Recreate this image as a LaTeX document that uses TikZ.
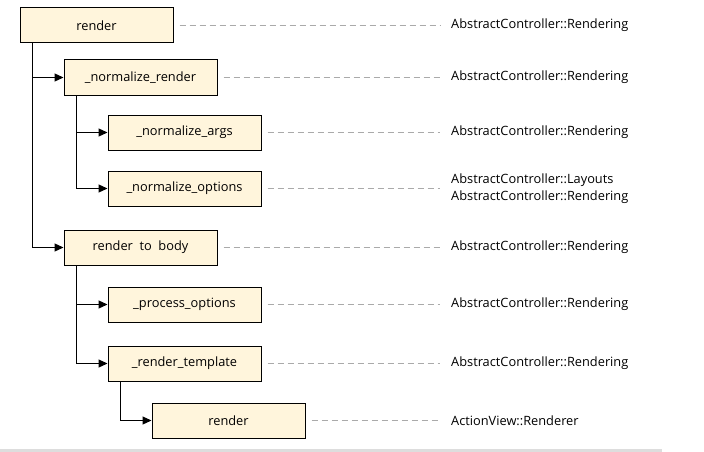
\documentclass[tikz,border=0pt]{standalone}
\usepackage{fontspec}
\setmainfont{Open Sans}
\usetikzlibrary{arrows.meta, positioning}

\definecolor{boxfill}{RGB}{255,245,220}
\definecolor{dashgray}{RGB}{170,170,170}
\definecolor{bargray}{RGB}{221,221,221}

\tikzset{
  call/.style = {draw=black, line width=1pt, fill=boxfill,
                 minimum width=153pt, minimum height=35pt,
                 inner sep=0pt, font=\fontsize{12.8}{15}\selectfont},
  owner/.style = {anchor=west, align=left, inner sep=0pt,
                  font=\fontsize{12.8}{17}\selectfont},
  guide/.style = {draw=dashgray, line width=1pt, dash pattern=on 6pt off 4pt,
                  shorten <=6pt, shorten >=11pt},
  flow/.style = {-{Triangle[length=9pt,width=8pt]}, line width=1.2pt}
}

\begin{document}
\begin{tikzpicture} [x=1pt, y=-1pt, node distance = 44pt, on grid]
        \useasboundingbox (0,0) rectangle (704,452);
        \fill [bargray] (0,449) rectangle (662,452);

        \node (render) [call] at (96.5,25.5) {render};
        \node (nrender) [call, below right = 52pt and 44pt of render] {\_normalize\_render};
        \node (nargs) [call, below right = 55pt and 44pt of nrender] {\_normalize\_args};
        \node (nopts) [call, below = 56pt of nargs] {\_normalize\_options};
        \node (rtb) [call, below left = 59pt and 44pt of nopts] {render\ \ to\ \ body};
        \node (popts) [call, below right = 57pt and 44pt of rtb] {\_process\_options};
        \node (rtmpl) [call, below = 59pt of popts] {\_render\_template};
        \node (view) [call, below right = 57pt and 44pt of rtmpl] {render};

        % owners on the right
        \node (o1) [owner] at (451,25.5) {AbstractController::Rendering};
        \node (o2) [owner] at (451,77.5) {AbstractController::Rendering};
        \node (o3) [owner] at (451,132.5) {AbstractController::Rendering};
        \node (o4) [owner] at (451,188.5) {AbstractController::Layouts\\AbstractController::Rendering};
        \node (o5) [owner] at (451,247.5) {AbstractController::Rendering};
        \node (o6) [owner] at (451,304.5) {AbstractController::Rendering};
        \node (o7) [owner] at (451,363.5) {AbstractController::Rendering};
        \node (o8) [owner] at (451,420.5) {ActionView::Renderer};

        \path [guide]
          (render.east) edge (o1.west)
          (nrender.east) edge (o2.west)
          (nargs.east) edge (o3.west)
          (nopts.east) edge (o4.west)
          (rtb.east) edge (o5.west)
          (popts.east) edge (o6.west)
          (rtmpl.east) edge (o7.west)
          (view.east) edge (o8.west);

        \coordinate (t1) at ([xshift=13pt]render.south west);
        \coordinate (t2) at ([xshift=13pt]nrender.south west);
        \coordinate (t3) at ([xshift=13pt]rtb.south west);
        \coordinate (t4) at ([xshift=13pt]rtmpl.south west);

        \draw [flow] (t1) |- (nrender.west);
        \draw [flow] (t1) |- (rtb.west);
        \draw [flow] (t2) |- (nargs.west);
        \draw [flow] (t2) |- (nopts.west);
        \draw [flow] (t3) |- (popts.west);
        \draw [flow] (t3) |- (rtmpl.west);
        \draw [flow] (t4) |- (view.west);
    \end{tikzpicture}
\end{document}
